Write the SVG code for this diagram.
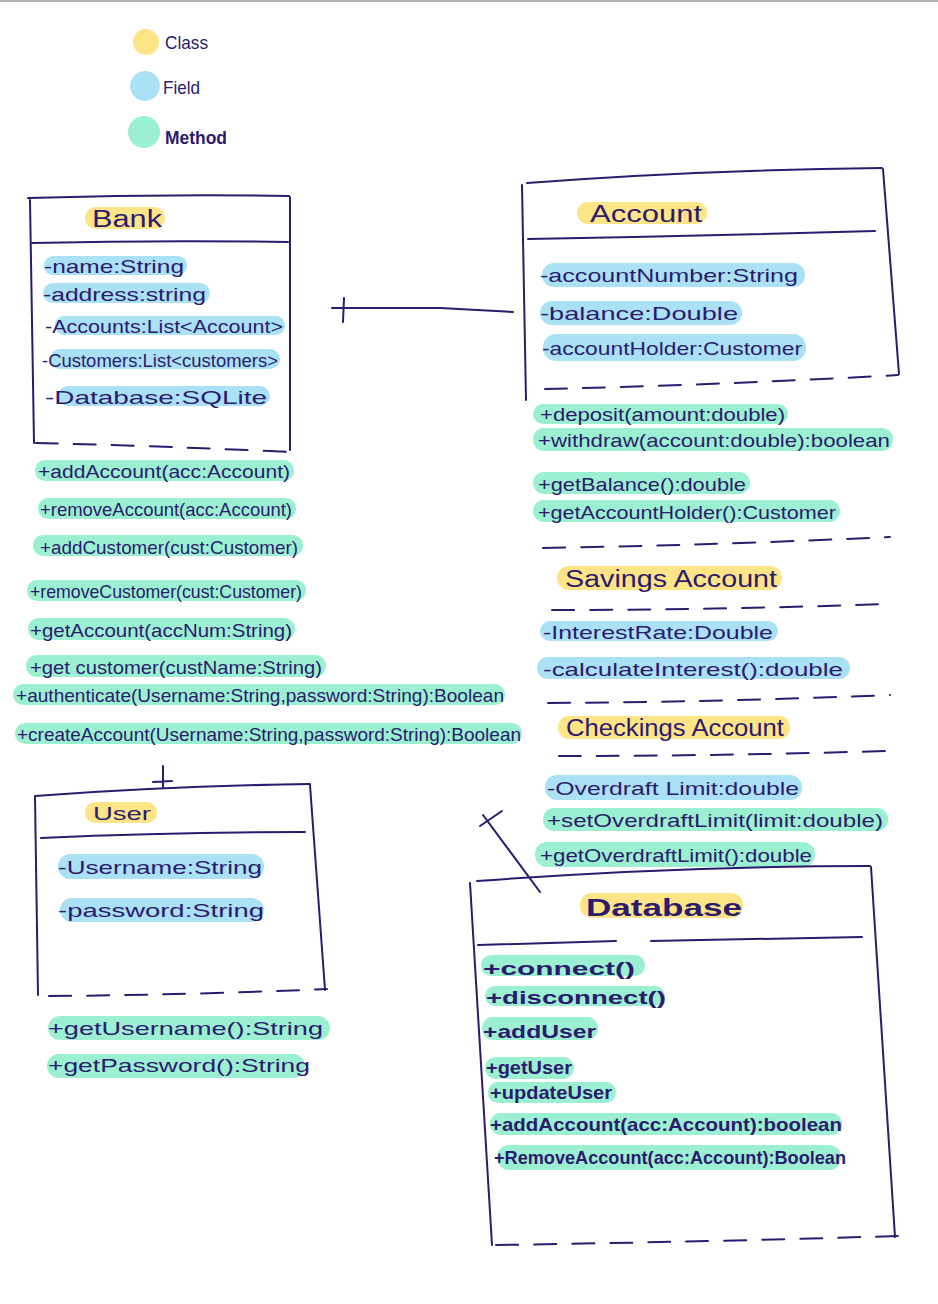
<svg xmlns="http://www.w3.org/2000/svg" width="938" height="1304" viewBox="0 0 938 1304">
<style>
.ink{fill:none;stroke:#2c1a6e;stroke-width:2;stroke-linecap:round}
.dash{fill:none;stroke:#2c1a6e;stroke-width:2;stroke-dasharray:22 16;stroke-linecap:round}
.y{fill:#fde487}
.b{fill:#aae1f5}
.g{fill:#9bf0d1}
text{font-family:"Liberation Sans","DejaVu Sans",sans-serif;fill:#2c1a6e;font-size:19px}
.t{font-size:23px}
.bd{font-weight:bold}
</style>
<rect width="938" height="1304" fill="#ffffff"/>
<line x1="0" y1="1" x2="938" y2="1" stroke="#b0b0b0" stroke-width="2"/>

<g id="legend">
<circle class="y" cx="146" cy="42" r="13"/>
<text x="165" y="49" textLength="43" lengthAdjust="spacingAndGlyphs">Class</text>
<circle class="b" cx="145" cy="86" r="15"/>
<text x="163" y="94" textLength="37" lengthAdjust="spacingAndGlyphs">Field</text>
<circle class="g" cx="144" cy="132" r="16"/>
<text x="165" y="144" textLength="62" lengthAdjust="spacingAndGlyphs" font-weight="bold">Method</text>
</g>

<g id="connectors">
<path class="ink" d="M332 308 L440 308 L513 312"/>
<path class="ink" d="M344 298 L343 322" stroke-width="3"/>
<path class="ink" d="M163 766 L163 788 M153 782 L172 781"/>
<path class="ink" d="M483 815 L540 892"/>
<path class="ink" d="M480 826 L502 811"/>
</g>

<g id="node-bank">
<path class="ink" d="M28 198 Q160 194 289 196"/>
<path class="ink" d="M30 200 L34 443"/>
<path class="ink" d="M290 197 L290 450"/>
<path class="ink" d="M32 243 Q160 240 288 242"/>
<path class="dash" d="M36 443 Q160 446 290 452"/>
<rect class="y" x="85" y="207" width="80" height="22" rx="11"/>
<text class="t" x="92" y="227" textLength="70" lengthAdjust="spacingAndGlyphs">Bank</text>
<rect class="b" x="44" y="256" width="143" height="19" rx="9"/>
<text x="44" y="273" textLength="140" lengthAdjust="spacingAndGlyphs">-name:String</text>
<rect class="b" x="43" y="283" width="167" height="20" rx="10"/>
<text x="43" y="301" textLength="163" lengthAdjust="spacingAndGlyphs">-address:string</text>
<rect class="b" x="55" y="316" width="230" height="19" rx="9"/>
<text x="45" y="333" textLength="238" lengthAdjust="spacingAndGlyphs">-Accounts:List&lt;Account&gt;</text>
<rect class="b" x="50" y="349" width="230" height="20" rx="10"/>
<text x="42" y="367" textLength="236" lengthAdjust="spacingAndGlyphs">-Customers:List&lt;customers&gt;</text>
<rect class="b" x="58" y="386" width="212" height="20" rx="10"/>
<text x="45" y="404" textLength="222" lengthAdjust="spacingAndGlyphs">-Database:SQLite</text>
<rect class="g" x="35" y="460" width="259" height="21" rx="10"/>
<text x="38" y="478" textLength="252" lengthAdjust="spacingAndGlyphs">+addAccount(acc:Account)</text>
<rect class="g" x="38" y="498" width="258" height="21" rx="10"/>
<text x="40" y="516" textLength="252" lengthAdjust="spacingAndGlyphs">+removeAccount(acc:Account)</text>
<rect class="g" x="33" y="535" width="270" height="21" rx="10"/>
<text x="40" y="554" textLength="258" lengthAdjust="spacingAndGlyphs">+addCustomer(cust:Customer)</text>
<rect class="g" x="27" y="580" width="279" height="21" rx="10"/>
<text x="30" y="598" textLength="272" lengthAdjust="spacingAndGlyphs">+removeCustomer(cust:Customer)</text>
<rect class="g" x="28" y="618" width="267" height="22" rx="11"/>
<text x="30" y="637" textLength="262" lengthAdjust="spacingAndGlyphs">+getAccount(accNum:String)</text>
<rect class="g" x="26" y="655" width="300" height="22" rx="11"/>
<text x="30" y="674" textLength="292" lengthAdjust="spacingAndGlyphs">+get customer(custName:String)</text>
<rect class="g" x="13" y="684" width="492" height="21" rx="10"/>
<text x="16" y="702" textLength="488" lengthAdjust="spacingAndGlyphs">+authenticate(Username:String,password:String):Boolean</text>
<rect class="g" x="15" y="723" width="507" height="21" rx="10"/>
<text x="17" y="741" textLength="504" lengthAdjust="spacingAndGlyphs">+createAccount(Username:String,password:String):Boolean</text>
</g>

<g id="node-account">
<path class="ink" d="M527 183 Q700 170 882 168"/>
<path class="ink" d="M522 185 L526 400"/>
<path class="ink" d="M883 169 L899 374"/>
<path class="ink" d="M528 239 Q700 236 875 231"/>
<path class="dash" d="M545 389 Q720 385 898 375"/>
<rect class="y" x="577" y="202" width="130" height="22" rx="11"/>
<text class="t" x="590" y="222" textLength="112" lengthAdjust="spacingAndGlyphs" font-size="26">Account</text>
<rect class="b" x="542" y="263" width="263" height="24" rx="12"/>
<text x="540" y="282" textLength="258" lengthAdjust="spacingAndGlyphs">-accountNumber:String</text>
<rect class="b" x="540" y="301" width="202" height="24" rx="12"/>
<text x="540" y="320" textLength="198" lengthAdjust="spacingAndGlyphs">-balance:Double</text>
<rect class="b" x="543" y="334" width="263" height="27" rx="13"/>
<text x="542" y="355" textLength="260" lengthAdjust="spacingAndGlyphs">-accountHolder:Customer</text>
<rect class="g" x="533" y="404" width="255" height="20" rx="10"/>
<text x="540" y="421" textLength="245" lengthAdjust="spacingAndGlyphs">+deposit(amount:double)</text>
<rect class="g" x="533" y="428" width="360" height="23" rx="11"/>
<text x="538" y="447" textLength="352" lengthAdjust="spacingAndGlyphs">+withdraw(account:double):boolean</text>
<rect class="g" x="533" y="472" width="217" height="22" rx="11"/>
<text x="538" y="491" textLength="208" lengthAdjust="spacingAndGlyphs">+getBalance():double</text>
<rect class="g" x="533" y="500" width="307" height="22" rx="11"/>
<text x="538" y="519" textLength="298" lengthAdjust="spacingAndGlyphs">+getAccountHolder():Customer</text>
<path class="dash" d="M543 548 Q720 545 890 537"/>
</g>

<g id="node-savings-account">
<rect class="y" x="557" y="566" width="225" height="24" rx="12"/>
<text class="t" x="565" y="587" textLength="212" lengthAdjust="spacingAndGlyphs">Savings  Account</text>
<path class="dash" d="M552 610 Q720 610 884 604"/>
<rect class="b" x="540" y="621" width="238" height="20" rx="10"/>
<text x="543" y="639" textLength="230" lengthAdjust="spacingAndGlyphs">-InterestRate:Double</text>
<rect class="b" x="537" y="657" width="313" height="22" rx="11"/>
<text x="543" y="676" textLength="300" lengthAdjust="spacingAndGlyphs">-calculateInterest():double</text>
<path class="dash" d="M548 703 Q720 702 890 695"/>
</g>

<g id="node-checkings-account">
<rect class="y" x="558" y="716" width="232" height="23" rx="11"/>
<text class="t" x="566" y="736" textLength="218" lengthAdjust="spacingAndGlyphs">Checkings  Account</text>
<path class="dash" d="M559 756 Q720 756 886 751"/>
<rect class="b" x="545" y="775" width="257" height="25" rx="12"/>
<text x="547" y="795" textLength="252" lengthAdjust="spacingAndGlyphs">-Overdraft Limit:double</text>
<rect class="g" x="543" y="808" width="345" height="23" rx="11"/>
<text x="547" y="827" textLength="336" lengthAdjust="spacingAndGlyphs">+setOverdraftLimit(limit:double)</text>
<rect class="g" x="535" y="842" width="280" height="25" rx="12"/>
<text x="540" y="862" textLength="272" lengthAdjust="spacingAndGlyphs">+getOverdraftLimit():double</text>
</g>

<g id="node-user">
<path class="ink" d="M35 796 Q170 786 310 784"/>
<path class="ink" d="M35 797 L38 995"/>
<path class="ink" d="M310 785 L325 990"/>
<path class="ink" d="M41 838 Q170 832 305 832"/>
<path class="dash" d="M49 996 Q190 995 327 989"/>
<rect class="y" x="85" y="802" width="72" height="21" rx="10"/>
<text x="93" y="820" textLength="58" lengthAdjust="spacingAndGlyphs" font-size="20">User</text>
<rect class="b" x="58" y="854" width="206" height="25" rx="12"/>
<text x="58" y="874" textLength="204" lengthAdjust="spacingAndGlyphs" font-size="21">-Username:String</text>
<rect class="b" x="60" y="898" width="204" height="24" rx="12"/>
<text x="58" y="917" textLength="206" lengthAdjust="spacingAndGlyphs" font-size="21">-password:String</text>
<rect class="g" x="48" y="1016" width="282" height="24" rx="12"/>
<text x="48" y="1035" textLength="275" lengthAdjust="spacingAndGlyphs" font-size="21">+getUsername():String</text>
<rect class="g" x="47" y="1054" width="258" height="24" rx="12"/>
<text x="48" y="1072" textLength="262" lengthAdjust="spacingAndGlyphs" font-size="21">+getPassword():String</text>
</g>

<g id="node-database">
<path class="ink" d="M477 881 Q680 866 870 866"/>
<path class="ink" d="M470 883 L492 1245"/>
<path class="ink" d="M871 867 L895 1237"/>
<path class="ink" d="M478 945 L616 941 M651 941 L862 937"/>
<path class="dash" d="M496 1245 Q700 1242 898 1236"/>
<rect class="y" x="580" y="893" width="163" height="25" rx="12"/>
<text class="t bd" x="586" y="916" textLength="156" lengthAdjust="spacingAndGlyphs" font-size="26">Database</text>
<rect class="g" x="481" y="955" width="164" height="21" rx="10"/>
<text class="bd" x="483" y="975" textLength="152" lengthAdjust="spacingAndGlyphs" font-size="22">+connect()</text>
<rect class="g" x="485" y="986" width="180" height="20" rx="10"/>
<text class="bd" x="486" y="1004" textLength="180" lengthAdjust="spacingAndGlyphs" font-size="22">+disconnect()</text>
<rect class="g" x="482" y="1017" width="116" height="23" rx="11"/>
<text class="bd" x="483" y="1038" textLength="113" lengthAdjust="spacingAndGlyphs" font-size="22">+addUser</text>
<rect class="g" x="485" y="1057" width="89" height="22" rx="11"/>
<text class="bd" x="486" y="1074" textLength="86" lengthAdjust="spacingAndGlyphs" font-size="20">+getUser</text>
<rect class="g" x="488" y="1082" width="128" height="21" rx="10"/>
<text class="bd" x="490" y="1099" textLength="122" lengthAdjust="spacingAndGlyphs" font-size="19">+updateUser</text>
<rect class="g" x="490" y="1113" width="352" height="22" rx="11"/>
<text class="bd" x="490" y="1131" textLength="352" lengthAdjust="spacingAndGlyphs" font-size="20">+addAccount(acc:Account):boolean</text>
<rect class="g" x="497" y="1145" width="344" height="25" rx="12"/>
<text class="bd" x="494" y="1164" textLength="352" lengthAdjust="spacingAndGlyphs" font-size="20">+RemoveAccount(acc:Account):Boolean</text>
</g>
</svg>
